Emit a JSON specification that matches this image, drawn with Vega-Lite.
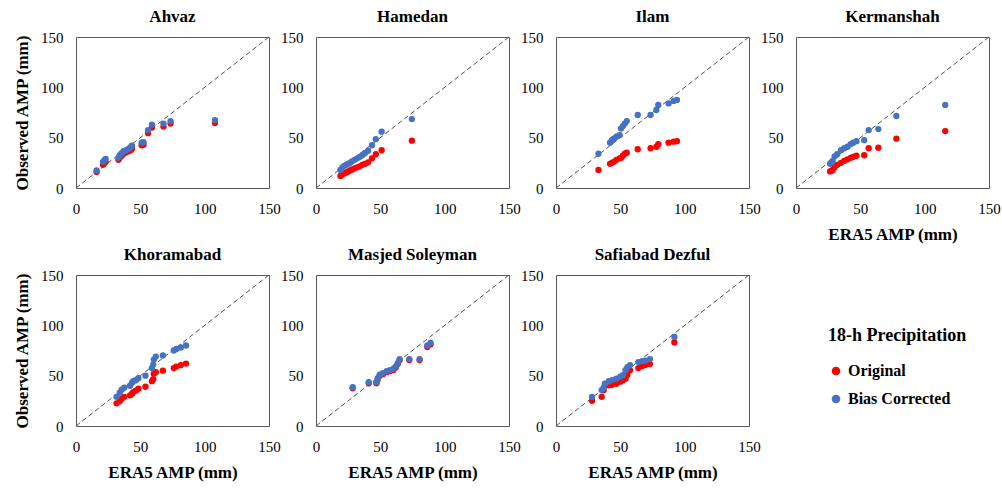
{
  "$schema": "https://vega.github.io/schema/vega-lite/v6.json",
  "padding": {"top": 7, "left": 12, "right": 0, "bottom": 5},
  "background": "white",
  "data": {"values": [
    {"s":"Ahvaz","x":16,"o":16,"b":17.5},{"s":"Ahvaz","x":21,"o":23,"b":26},{"s":"Ahvaz","x":22,"o":24.5,"b":27.5},{"s":"Ahvaz","x":23,"o":26,"b":29},{"s":"Ahvaz","x":33,"o":28,"b":30},{"s":"Ahvaz","x":34,"o":30,"b":32.5},{"s":"Ahvaz","x":35.5,"o":32,"b":34.5},{"s":"Ahvaz","x":37,"o":34,"b":36.5},{"s":"Ahvaz","x":39,"o":35.5,"b":37.5},{"s":"Ahvaz","x":41,"o":36.5,"b":39},{"s":"Ahvaz","x":42.5,"o":37.5,"b":40.5},{"s":"Ahvaz","x":43.5,"o":39,"b":42},{"s":"Ahvaz","x":51,"o":42.5,"b":45},{"s":"Ahvaz","x":52.5,"o":43,"b":45.5},{"s":"Ahvaz","x":56,"o":54.5,"b":57.5},{"s":"Ahvaz","x":59,"o":60,"b":63},{"s":"Ahvaz","x":68,"o":61,"b":64},{"s":"Ahvaz","x":73.5,"o":64,"b":66.5},{"s":"Ahvaz","x":108,"o":64.5,"b":67.5},
    {"s":"Hamedan","x":19,"o":12,"b":18},{"s":"Hamedan","x":20.5,"o":13.5,"b":20.5},{"s":"Hamedan","x":22,"o":14.5,"b":22},{"s":"Hamedan","x":23.5,"o":15.5,"b":23},{"s":"Hamedan","x":25,"o":16.5,"b":24},{"s":"Hamedan","x":26.5,"o":17.5,"b":25},{"s":"Hamedan","x":28,"o":18.5,"b":26.5},{"s":"Hamedan","x":30,"o":19.5,"b":28},{"s":"Hamedan","x":32,"o":20.5,"b":29.5},{"s":"Hamedan","x":34,"o":21.5,"b":31},{"s":"Hamedan","x":36,"o":23,"b":32.5},{"s":"Hamedan","x":38,"o":24,"b":34.5},{"s":"Hamedan","x":40.5,"o":25.5,"b":37},{"s":"Hamedan","x":43.5,"o":29.5,"b":42.5},{"s":"Hamedan","x":46.5,"o":33.5,"b":48.5},{"s":"Hamedan","x":51,"o":37.5,"b":56},{"s":"Hamedan","x":74.5,"o":47,"b":68.5},
    {"s":"Ilam","x":33,"o":18,"b":34},{"s":"Ilam","x":42,"o":24,"b":45},{"s":"Ilam","x":43.5,"o":25,"b":47.5},{"s":"Ilam","x":45,"o":26,"b":49},{"s":"Ilam","x":47,"o":28,"b":51},{"s":"Ilam","x":49.5,"o":29.5,"b":52.5},{"s":"Ilam","x":50.5,"o":30,"b":59},{"s":"Ilam","x":52,"o":32,"b":61.5},{"s":"Ilam","x":53.5,"o":34,"b":64},{"s":"Ilam","x":55,"o":35,"b":66.5},{"s":"Ilam","x":63.5,"o":38.5,"b":72.5},{"s":"Ilam","x":73.5,"o":39.5,"b":72.5},{"s":"Ilam","x":78,"o":41,"b":77.5},{"s":"Ilam","x":79.5,"o":43.5,"b":82.5},{"s":"Ilam","x":87.5,"o":45,"b":84},{"s":"Ilam","x":91.5,"o":46,"b":86.5},{"s":"Ilam","x":94,"o":46.5,"b":87.5},
    {"s":"Kermanshah","x":26.5,"o":16.5,"b":24},{"s":"Kermanshah","x":27.5,"o":17,"b":25.5},{"s":"Kermanshah","x":28.5,"o":18,"b":27},{"s":"Kermanshah","x":30,"o":20.5,"b":31.5},{"s":"Kermanshah","x":32,"o":23,"b":33.5},{"s":"Kermanshah","x":35,"o":25,"b":37.5},{"s":"Kermanshah","x":37.5,"o":27,"b":39.5},{"s":"Kermanshah","x":40,"o":28.5,"b":41},{"s":"Kermanshah","x":42.5,"o":30,"b":43.5},{"s":"Kermanshah","x":44.5,"o":31,"b":45},{"s":"Kermanshah","x":47,"o":32,"b":46.5},{"s":"Kermanshah","x":53,"o":32.5,"b":47.5},{"s":"Kermanshah","x":56.5,"o":39.5,"b":57.5},{"s":"Kermanshah","x":64,"o":40,"b":58.5},{"s":"Kermanshah","x":78,"o":49,"b":71.5},{"s":"Kermanshah","x":116,"o":56.5,"b":82.5},
    {"s":"Khoramabad","x":31.5,"o":22.5,"b":29},{"s":"Khoramabad","x":34,"o":24.5,"b":33},{"s":"Khoramabad","x":35.5,"o":27,"b":36},{"s":"Khoramabad","x":37.5,"o":29,"b":38},{"s":"Khoramabad","x":42,"o":30.5,"b":40},{"s":"Khoramabad","x":43.5,"o":32,"b":43},{"s":"Khoramabad","x":44.5,"o":33.5,"b":44.5},{"s":"Khoramabad","x":46.5,"o":35,"b":45.5},{"s":"Khoramabad","x":48.5,"o":37,"b":47.5},{"s":"Khoramabad","x":54,"o":39,"b":50},{"s":"Khoramabad","x":59,"o":44.5,"b":57.5},{"s":"Khoramabad","x":60,"o":46.5,"b":61},{"s":"Khoramabad","x":60.5,"o":52,"b":66},{"s":"Khoramabad","x":62,"o":53.5,"b":69},{"s":"Khoramabad","x":67.5,"o":55,"b":70},{"s":"Khoramabad","x":76,"o":57.5,"b":75},{"s":"Khoramabad","x":78,"o":59,"b":76.5},{"s":"Khoramabad","x":81.5,"o":60.5,"b":78},{"s":"Khoramabad","x":85.5,"o":62,"b":80},
    {"s":"Masjed Soleyman","x":28.5,"o":37.5,"b":38.5},{"s":"Masjed Soleyman","x":41,"o":42.5,"b":43.5},{"s":"Masjed Soleyman","x":47,"o":42.5,"b":43.5},{"s":"Masjed Soleyman","x":48,"o":46.5,"b":47.5},{"s":"Masjed Soleyman","x":49.5,"o":50,"b":51},{"s":"Masjed Soleyman","x":52,"o":51.5,"b":52.5},{"s":"Masjed Soleyman","x":55,"o":53.5,"b":54.5},{"s":"Masjed Soleyman","x":57.5,"o":54.5,"b":55.5},{"s":"Masjed Soleyman","x":60,"o":55.5,"b":56.5},{"s":"Masjed Soleyman","x":62,"o":58,"b":59},{"s":"Masjed Soleyman","x":63.5,"o":61.5,"b":62.5},{"s":"Masjed Soleyman","x":65,"o":65.5,"b":66.5},{"s":"Masjed Soleyman","x":72.5,"o":65.5,"b":66.5},{"s":"Masjed Soleyman","x":80.5,"o":65.5,"b":66.5},{"s":"Masjed Soleyman","x":86.5,"o":78.5,"b":80},{"s":"Masjed Soleyman","x":89,"o":81,"b":82.5},
    {"s":"Safiabad Dezful","x":28,"o":25,"b":29},{"s":"Safiabad Dezful","x":35.5,"o":29,"b":35.5},{"s":"Safiabad Dezful","x":37,"o":35.5,"b":38},{"s":"Safiabad Dezful","x":38,"o":40,"b":42},{"s":"Safiabad Dezful","x":41,"o":40.5,"b":44.5},{"s":"Safiabad Dezful","x":43.5,"o":41,"b":45.5},{"s":"Safiabad Dezful","x":47,"o":42,"b":47},{"s":"Safiabad Dezful","x":50,"o":44,"b":49},{"s":"Safiabad Dezful","x":52,"o":45.5,"b":50.5},{"s":"Safiabad Dezful","x":54,"o":47,"b":55.5},{"s":"Safiabad Dezful","x":55.5,"o":51,"b":58.5},{"s":"Safiabad Dezful","x":57.5,"o":55.5,"b":60.5},{"s":"Safiabad Dezful","x":64,"o":57.5,"b":63.5},{"s":"Safiabad Dezful","x":67,"o":59.5,"b":64.5},{"s":"Safiabad Dezful","x":69.5,"o":60.5,"b":65},{"s":"Safiabad Dezful","x":73,"o":61.5,"b":66.5},{"s":"Safiabad Dezful","x":92,"o":83,"b":88.5}
  ]},
  "columns": 4,
  "bounds": "flush",
  "spacing": {"row": 87, "column": 47},
  "concat": [
    {"title":"Ahvaz","width":193,"height":151,"layer":[
      {"data":{"values":[{}]},"mark":{"type":"rule","strokeDash":[5,3],"color":"#505050","strokeWidth":1},"encoding":{"x":{"datum":0,"type":"quantitative","scale":{"domain":[0,150],"nice":false},"axis":{"values":[0,50,100,150],"title":null}},"y":{"datum":0,"type":"quantitative","scale":{"domain":[0,150],"nice":false},"axis":{"values":[0,50,100,150],"title":"Observed AMP (mm)"}},"x2":{"datum":150},"y2":{"datum":150}}},
      {"transform":[{"filter":"datum.s=='Ahvaz'"}],"mark":{"type":"circle","size":40,"opacity":1},"encoding":{"x":{"field":"x","type":"quantitative","scale":{"domain":[0,150],"nice":false},"axis":{"values":[0,50,100,150],"title":null}},"y":{"field":"o","type":"quantitative","scale":{"domain":[0,150],"nice":false},"axis":{"values":[0,50,100,150],"title":"Observed AMP (mm)"}},"color":{"datum":"Original","scale":{"domain":["Original","Bias Corrected"],"range":["#FF0000","#4472C4"]},"legend":{"title":"18-h Precipitation","orient":"none","legendX":752,"legendY":290}}}},
      {"transform":[{"filter":"datum.s=='Ahvaz'"}],"mark":{"type":"circle","size":40,"opacity":1},"encoding":{"x":{"field":"x","type":"quantitative","scale":{"domain":[0,150],"nice":false},"axis":{"values":[0,50,100,150],"title":null}},"y":{"field":"b","type":"quantitative","scale":{"domain":[0,150],"nice":false},"axis":{"values":[0,50,100,150],"title":"Observed AMP (mm)"}},"color":{"datum":"Bias Corrected"}}}
    ]},
    {"title":"Hamedan","width":193,"height":151,"layer":[
      {"data":{"values":[{}]},"mark":{"type":"rule","strokeDash":[5,3],"color":"#505050","strokeWidth":1},"encoding":{"x":{"datum":0,"type":"quantitative","scale":{"domain":[0,150],"nice":false},"axis":{"values":[0,50,100,150],"title":null}},"y":{"datum":0,"type":"quantitative","scale":{"domain":[0,150],"nice":false},"axis":{"values":[0,50,100,150],"title":null}},"x2":{"datum":150},"y2":{"datum":150}}},
      {"transform":[{"filter":"datum.s=='Hamedan'"}],"mark":{"type":"circle","size":40,"opacity":1},"encoding":{"x":{"field":"x","type":"quantitative","scale":{"domain":[0,150],"nice":false},"axis":{"values":[0,50,100,150],"title":null}},"y":{"field":"o","type":"quantitative","scale":{"domain":[0,150],"nice":false},"axis":{"values":[0,50,100,150],"title":null}},"color":{"datum":"Original"}}},
      {"transform":[{"filter":"datum.s=='Hamedan'"}],"mark":{"type":"circle","size":40,"opacity":1},"encoding":{"x":{"field":"x","type":"quantitative","scale":{"domain":[0,150],"nice":false},"axis":{"values":[0,50,100,150],"title":null}},"y":{"field":"b","type":"quantitative","scale":{"domain":[0,150],"nice":false},"axis":{"values":[0,50,100,150],"title":null}},"color":{"datum":"Bias Corrected"}}}
    ]},
    {"title":"Ilam","width":193,"height":151,"layer":[
      {"data":{"values":[{}]},"mark":{"type":"rule","strokeDash":[5,3],"color":"#505050","strokeWidth":1},"encoding":{"x":{"datum":0,"type":"quantitative","scale":{"domain":[0,150],"nice":false},"axis":{"values":[0,50,100,150],"title":null}},"y":{"datum":0,"type":"quantitative","scale":{"domain":[0,150],"nice":false},"axis":{"values":[0,50,100,150],"title":null}},"x2":{"datum":150},"y2":{"datum":150}}},
      {"transform":[{"filter":"datum.s=='Ilam'"}],"mark":{"type":"circle","size":40,"opacity":1},"encoding":{"x":{"field":"x","type":"quantitative","scale":{"domain":[0,150],"nice":false},"axis":{"values":[0,50,100,150],"title":null}},"y":{"field":"o","type":"quantitative","scale":{"domain":[0,150],"nice":false},"axis":{"values":[0,50,100,150],"title":null}},"color":{"datum":"Original"}}},
      {"transform":[{"filter":"datum.s=='Ilam'"}],"mark":{"type":"circle","size":40,"opacity":1},"encoding":{"x":{"field":"x","type":"quantitative","scale":{"domain":[0,150],"nice":false},"axis":{"values":[0,50,100,150],"title":null}},"y":{"field":"b","type":"quantitative","scale":{"domain":[0,150],"nice":false},"axis":{"values":[0,50,100,150],"title":null}},"color":{"datum":"Bias Corrected"}}}
    ]},
    {"title":"Kermanshah","width":193,"height":151,"layer":[
      {"data":{"values":[{}]},"mark":{"type":"rule","strokeDash":[5,3],"color":"#505050","strokeWidth":1},"encoding":{"x":{"datum":0,"type":"quantitative","scale":{"domain":[0,150],"nice":false},"axis":{"values":[0,50,100,150],"title":"ERA5 AMP (mm)"}},"y":{"datum":0,"type":"quantitative","scale":{"domain":[0,150],"nice":false},"axis":{"values":[0,50,100,150],"title":null}},"x2":{"datum":150},"y2":{"datum":150}}},
      {"transform":[{"filter":"datum.s=='Kermanshah'"}],"mark":{"type":"circle","size":40,"opacity":1},"encoding":{"x":{"field":"x","type":"quantitative","scale":{"domain":[0,150],"nice":false},"axis":{"values":[0,50,100,150],"title":"ERA5 AMP (mm)"}},"y":{"field":"o","type":"quantitative","scale":{"domain":[0,150],"nice":false},"axis":{"values":[0,50,100,150],"title":null}},"color":{"datum":"Original"}}},
      {"transform":[{"filter":"datum.s=='Kermanshah'"}],"mark":{"type":"circle","size":40,"opacity":1},"encoding":{"x":{"field":"x","type":"quantitative","scale":{"domain":[0,150],"nice":false},"axis":{"values":[0,50,100,150],"title":"ERA5 AMP (mm)"}},"y":{"field":"b","type":"quantitative","scale":{"domain":[0,150],"nice":false},"axis":{"values":[0,50,100,150],"title":null}},"color":{"datum":"Bias Corrected"}}}
    ]},
    {"title":"Khoramabad","width":193,"height":151,"layer":[
      {"data":{"values":[{}]},"mark":{"type":"rule","strokeDash":[5,3],"color":"#505050","strokeWidth":1},"encoding":{"x":{"datum":0,"type":"quantitative","scale":{"domain":[0,150],"nice":false},"axis":{"values":[0,50,100,150],"title":"ERA5 AMP (mm)"}},"y":{"datum":0,"type":"quantitative","scale":{"domain":[0,150],"nice":false},"axis":{"values":[0,50,100,150],"title":"Observed AMP (mm)"}},"x2":{"datum":150},"y2":{"datum":150}}},
      {"transform":[{"filter":"datum.s=='Khoramabad'"}],"mark":{"type":"circle","size":40,"opacity":1},"encoding":{"x":{"field":"x","type":"quantitative","scale":{"domain":[0,150],"nice":false},"axis":{"values":[0,50,100,150],"title":"ERA5 AMP (mm)"}},"y":{"field":"o","type":"quantitative","scale":{"domain":[0,150],"nice":false},"axis":{"values":[0,50,100,150],"title":"Observed AMP (mm)"}},"color":{"datum":"Original"}}},
      {"transform":[{"filter":"datum.s=='Khoramabad'"}],"mark":{"type":"circle","size":40,"opacity":1},"encoding":{"x":{"field":"x","type":"quantitative","scale":{"domain":[0,150],"nice":false},"axis":{"values":[0,50,100,150],"title":"ERA5 AMP (mm)"}},"y":{"field":"b","type":"quantitative","scale":{"domain":[0,150],"nice":false},"axis":{"values":[0,50,100,150],"title":"Observed AMP (mm)"}},"color":{"datum":"Bias Corrected"}}}
    ]},
    {"title":"Masjed Soleyman","width":193,"height":151,"layer":[
      {"data":{"values":[{}]},"mark":{"type":"rule","strokeDash":[5,3],"color":"#505050","strokeWidth":1},"encoding":{"x":{"datum":0,"type":"quantitative","scale":{"domain":[0,150],"nice":false},"axis":{"values":[0,50,100,150],"title":"ERA5 AMP (mm)"}},"y":{"datum":0,"type":"quantitative","scale":{"domain":[0,150],"nice":false},"axis":{"values":[0,50,100,150],"title":null}},"x2":{"datum":150},"y2":{"datum":150}}},
      {"transform":[{"filter":"datum.s=='Masjed Soleyman'"}],"mark":{"type":"circle","size":40,"opacity":1},"encoding":{"x":{"field":"x","type":"quantitative","scale":{"domain":[0,150],"nice":false},"axis":{"values":[0,50,100,150],"title":"ERA5 AMP (mm)"}},"y":{"field":"o","type":"quantitative","scale":{"domain":[0,150],"nice":false},"axis":{"values":[0,50,100,150],"title":null}},"color":{"datum":"Original"}}},
      {"transform":[{"filter":"datum.s=='Masjed Soleyman'"}],"mark":{"type":"circle","size":40,"opacity":1},"encoding":{"x":{"field":"x","type":"quantitative","scale":{"domain":[0,150],"nice":false},"axis":{"values":[0,50,100,150],"title":"ERA5 AMP (mm)"}},"y":{"field":"b","type":"quantitative","scale":{"domain":[0,150],"nice":false},"axis":{"values":[0,50,100,150],"title":null}},"color":{"datum":"Bias Corrected"}}}
    ]},
    {"title":"Safiabad Dezful","width":193,"height":151,"layer":[
      {"data":{"values":[{}]},"mark":{"type":"rule","strokeDash":[5,3],"color":"#505050","strokeWidth":1},"encoding":{"x":{"datum":0,"type":"quantitative","scale":{"domain":[0,150],"nice":false},"axis":{"values":[0,50,100,150],"title":"ERA5 AMP (mm)"}},"y":{"datum":0,"type":"quantitative","scale":{"domain":[0,150],"nice":false},"axis":{"values":[0,50,100,150],"title":null}},"x2":{"datum":150},"y2":{"datum":150}}},
      {"transform":[{"filter":"datum.s=='Safiabad Dezful'"}],"mark":{"type":"circle","size":40,"opacity":1},"encoding":{"x":{"field":"x","type":"quantitative","scale":{"domain":[0,150],"nice":false},"axis":{"values":[0,50,100,150],"title":"ERA5 AMP (mm)"}},"y":{"field":"o","type":"quantitative","scale":{"domain":[0,150],"nice":false},"axis":{"values":[0,50,100,150],"title":null}},"color":{"datum":"Original"}}},
      {"transform":[{"filter":"datum.s=='Safiabad Dezful'"}],"mark":{"type":"circle","size":40,"opacity":1},"encoding":{"x":{"field":"x","type":"quantitative","scale":{"domain":[0,150],"nice":false},"axis":{"values":[0,50,100,150],"title":"ERA5 AMP (mm)"}},"y":{"field":"b","type":"quantitative","scale":{"domain":[0,150],"nice":false},"axis":{"values":[0,50,100,150],"title":null}},"color":{"datum":"Bias Corrected"}}}
    ]}
  ],
  "config": {
    "font": "Liberation Serif",
    "view": {"stroke": "#595959", "strokeWidth": 1},
    "axis": {"grid": false, "ticks": false, "domain": false, "labelFont": "Liberation Serif", "labelFontSize": 15, "labelColor": "#000", "labelPadding": 13, "labelFlush": false, "labelOverlap": false, "titleFont": "Liberation Serif", "titleFontSize": 17, "titleFontWeight": "bold", "titleColor": "#000"},
    "axisX": {"titlePadding": 10},
    "axisY": {"titlePadding": 9},
    "title": {"font": "Liberation Serif", "fontSize": 17, "fontWeight": "bold", "color": "#000", "anchor": "middle", "offset": 4},
    "legend": {"titleFont": "Liberation Serif", "titleFontSize": 18, "titleFontWeight": "bold", "titleColor": "#000", "labelFont": "Liberation Serif", "labelFontSize": 16, "labelFontWeight": "bold", "labelColor": "#000", "symbolType": "circle", "symbolSize": 75, "symbolStrokeWidth": 0, "rowPadding": 12, "titlePadding": 18, "labelOffset": 4}
  }
}
